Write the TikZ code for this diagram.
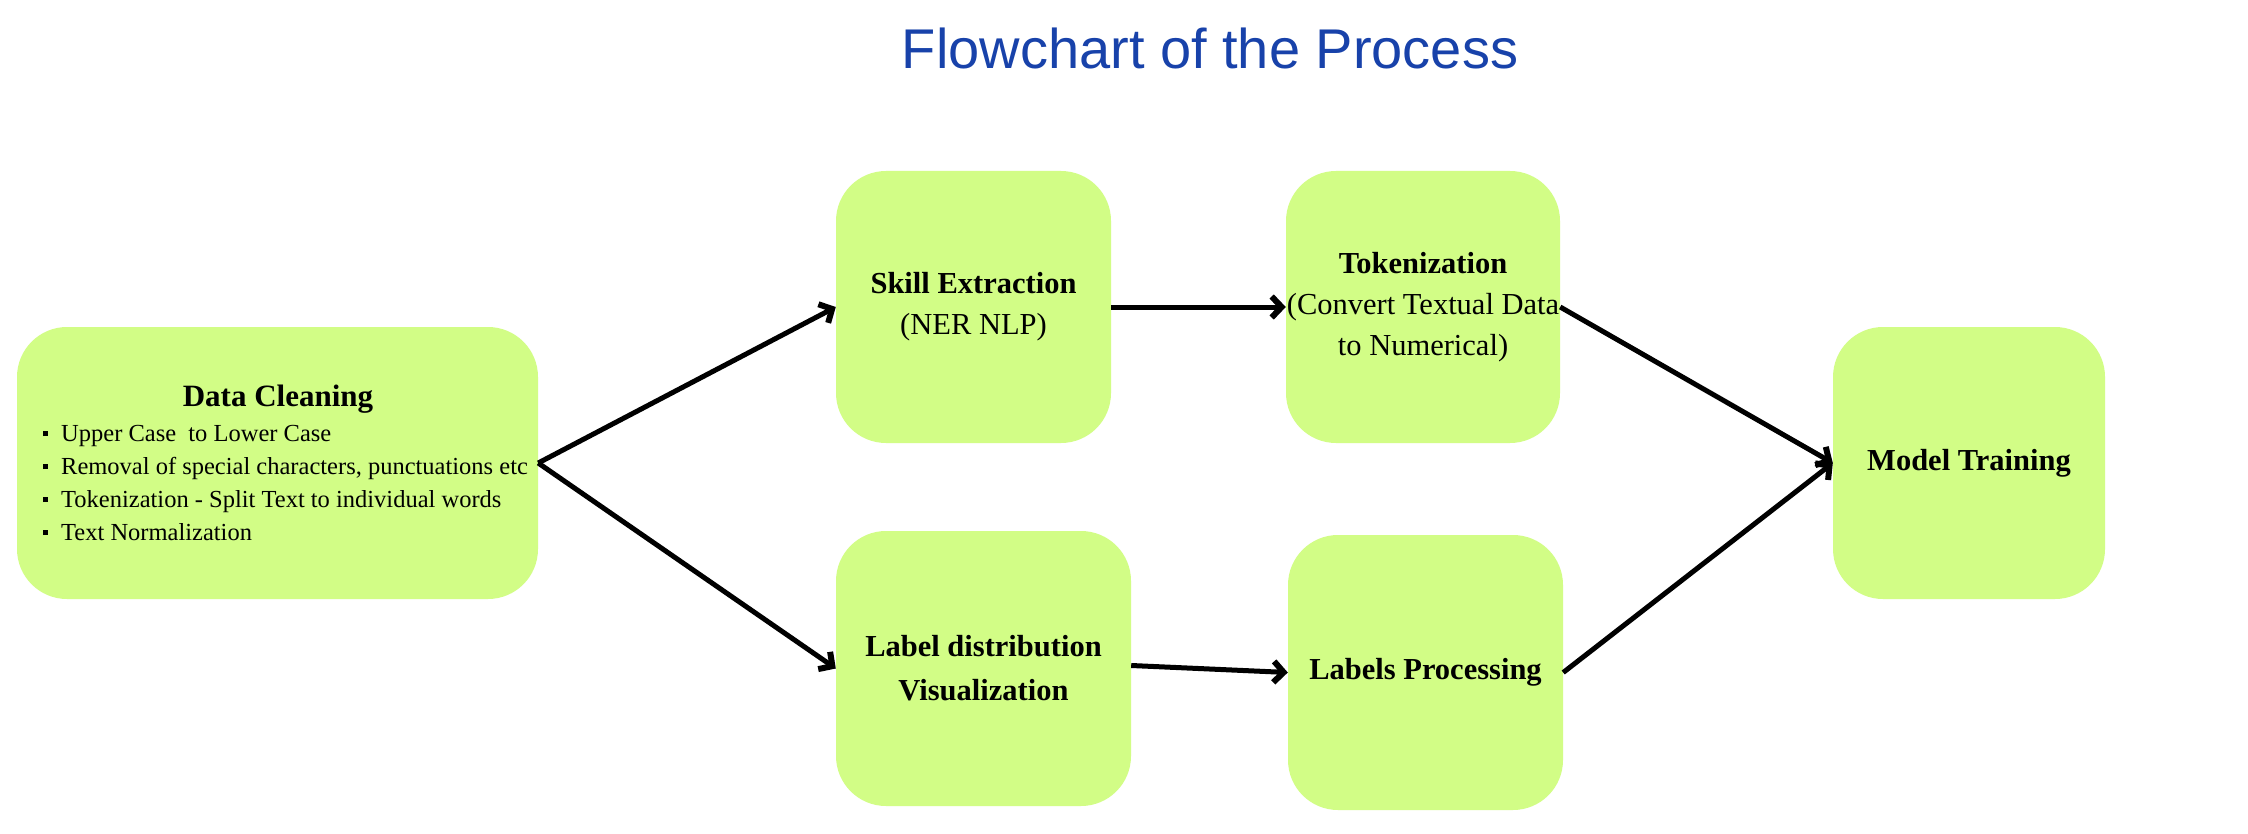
\documentclass[tikz,border=0pt]{standalone}
\usepackage{fontspec}
\setmainfont{Liberation Serif}
\newfontfamily\titlefont{Liberation Sans}
\usetikzlibrary{arrows.meta}
\definecolor{boxgreen}{RGB}{210,253,134}
\definecolor{titleblue}{RGB}{24,66,170}
\newcommand{\dcbullet}{\makebox[19pt][l]{\hspace{1pt}\raisebox{5pt}{\rule{5pt}{5pt}}}}
\begin{document}
\begin{tikzpicture}[x=1pt,y=-1pt,
  box/.style={fill=boxgreen, draw=none, rounded corners=50pt, inner sep=0pt, align=center,
              minimum height=272pt, font=\fontsize{30.5}{41}\selectfont},
  conn/.style={line width=5pt, -{Straight Barb[length=10pt,width=21pt,line width=6pt]}},
]
\fill[white] (0,0) rectangle (2248,834);
\useasboundingbox (0,0) rectangle (2248,834);

\node[font=\titlefont\fontsize{56}{60}\selectfont, text=titleblue, anchor=base] (title) at (1210,69) {Flowchart of the Process};

\node[box, minimum width=521pt] (dc) at (277.5,463) {};
\node[font=\fontsize{31}{40}\selectfont\bfseries, anchor=base] (dct) at (278,406) {Data Cleaning};
\node[font=\fontsize{24.5}{33}\selectfont, anchor=base west, inner sep=0pt] (dcl) at (42,441)
  {\begin{tabular}[t]{@{}l@{}}
   \dcbullet Upper Case~ to Lower Case\\
   \dcbullet Removal of special characters, punctuations etc\\
   \dcbullet Tokenization - Split Text to individual words\\
   \dcbullet Text Normalization
   \end{tabular}};

\node[box, minimum width=275pt] (se) at (973.5,307) {\textbf{Skill Extraction}\\(NER NLP)};
\node[box, minimum width=274pt] (tok) at (1423,307) {\textbf{Tokenization}\\(Convert Textual Data\\to Numerical)};
\node[box, minimum width=295pt, minimum height=275pt, font=\fontsize{30.5}{44}\selectfont] (ld) at (983.5,668.5) {\textbf{Label distribution}\\\textbf{Visualization}};
\node[box, minimum width=275pt, minimum height=275pt] (lp) at (1425.5,672.5) {\textbf{Labels Processing}};
\node[box, minimum width=272pt] (mt) at (1969,463) {\textbf{Model Training}};

\draw[conn] (dc.east) -- (se.west);
\draw[conn] (dc.east) -- (ld.west);
\draw[conn] (se.east) -- (tok.west);
\draw[conn] ([yshift=3pt]ld.east) -- (lp.west);
\draw[conn] (tok.east) -- (mt.west);
\draw[conn] (lp.east) -- (mt.west);
\end{tikzpicture}
\end{document}
